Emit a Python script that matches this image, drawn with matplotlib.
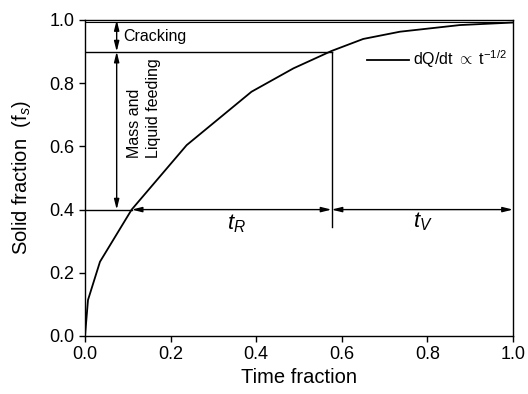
import matplotlib
matplotlib.use("Agg")
import matplotlib.pyplot as plt

plt.rcParams['font.family'] = ['Liberation Sans', 'DejaVu Sans']
plt.rcParams['mathtext.fontset'] = 'custom'
plt.rcParams['mathtext.rm'] = 'Liberation Sans'
plt.rcParams['mathtext.it'] = 'Liberation Sans:italic'

# curve data (time fraction, solid fraction)
t = [0.0, 0.007, 0.035, 0.109, 0.2375, 0.389, 0.487, 0.576, 0.65, 0.736, 0.876, 1.0]
fs = [0.0, 0.114, 0.235, 0.40, 0.604, 0.773, 0.847, 0.902, 0.94, 0.963, 0.984, 0.992]

t_cross = 0.109     # curve crosses fs = 0.4
t_mid = 0.576       # curve reaches fs = 0.9
fs_low, fs_mid, fs_top = 0.4, 0.9, 1.0
x_arrow = 0.074

fig = plt.figure(figsize=(5.28, 3.94), dpi=100)
ax = fig.add_axes([85/528, 1-336/394, 428/528, 316/394])

ax.plot(t, fs, color='black', lw=1.3, label=r'dQ/dt $\propto$ t$^{-1/2}$')

# guide lines
ax.plot([0, t_mid], [fs_mid, fs_mid], color='black', lw=1.0)
ax.plot([0, t_cross], [fs_low, fs_low], color='black', lw=1.0)
ax.plot([t_mid, t_mid], [0.345, fs_mid], color='black', lw=1.0)
ax.plot([0, 1], [0.994, 0.994], color='black', lw=0.8)

arrowprops = dict(arrowstyle='<|-|>,head_length=0.6,head_width=0.15', color='black', lw=1.0,
                  shrinkA=0, shrinkB=0)
ax.annotate('', xy=(t_cross, fs_low), xytext=(t_mid, fs_low), arrowprops=arrowprops)
ax.annotate('', xy=(t_mid, fs_low), xytext=(1.0, fs_low), arrowprops=arrowprops)
ax.annotate('', xy=(x_arrow, fs_low), xytext=(x_arrow, fs_mid), arrowprops=arrowprops)
ax.annotate('', xy=(x_arrow, fs_mid), xytext=(x_arrow, fs_top), arrowprops=arrowprops)

ax.text(0.089, 0.948, 'Cracking', fontsize=11.5, va='center', ha='left')
ax.text(0.138, 0.72, 'Mass and\nLiquid feeding', fontsize=11.5, rotation=90,
        va='center', ha='center', multialignment='left', linespacing=1.3)
ax.text(0.355, 0.355, r'$t_R$', fontsize=16, ha='center', va='center')
ax.text(0.79, 0.362, r'$t_V$', fontsize=16, ha='center', va='center')

leg = ax.legend(loc='upper right', bbox_to_anchor=(1.02, 0.955), frameon=False,
                fontsize=11.5, handlelength=2.6, handletextpad=0.3)

ax.set_xlim(0, 1)
ax.set_ylim(0, 1)
ax.set_xticks([0, 0.2, 0.4, 0.6, 0.8, 1.0])
ax.set_yticks([0, 0.2, 0.4, 0.6, 0.8, 1.0])
ax.set_xticklabels(['0.0', '0.2', '0.4', '0.6', '0.8', '1.0'])
ax.set_yticklabels(['0.0', '0.2', '0.4', '0.6', '0.8', '1.0'])
ax.tick_params(direction='out', length=4, width=1, labelsize=13)
for s in ax.spines.values():
    s.set_linewidth(1.0)
ax.set_xlabel('Time fraction', fontsize=14.5, labelpad=3)
ax.set_ylabel(r'Solid fraction  (f$_s$)', fontsize=14.5, labelpad=12)

fig.savefig('out.png', dpi=100)
